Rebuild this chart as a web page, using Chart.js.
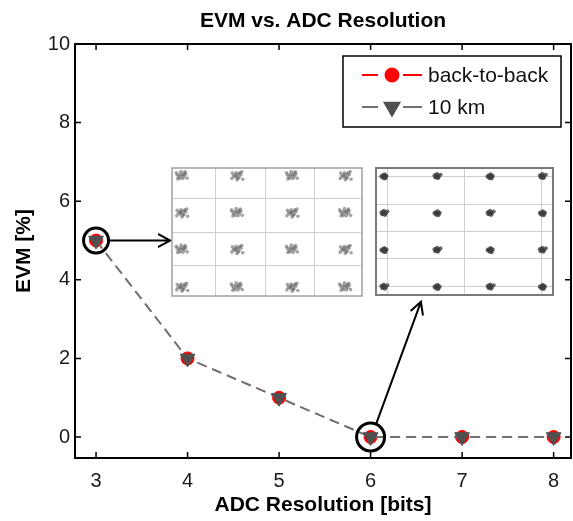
<!DOCTYPE html>
<html>
<head>
<meta charset="utf-8">
<script src="https://cdn.jsdelivr.net/npm/chart.js@4.4.0/dist/chart.umd.min.js"></script>
<style>
  html, body { margin: 0; padding: 0; background: #fff; }
  #wrap { position: relative; width: 573px; height: 521px; }
  #main { position: absolute; left: 0; top: 0; }
  .inset { position: absolute; }
</style>
</head>
<body>
<div id="wrap">
  <canvas id="main" width="573" height="521"></canvas>
  <canvas id="inset3" class="inset" width="192" height="130" style="left:171px;top:167px"></canvas>
  <canvas id="inset6" class="inset" width="179" height="129" style="left:375px;top:167px"></canvas>
</div>
<script>
// --- main plot data ---
const bits = [3, 4, 5, 6, 7, 8];
const evmBackToBack = [5, 2, 1, 0, 0, 0];
const evm10km = [5, 2, 1, 0, 0, 0];
const xTicks = [3, 4, 5, 6, 7, 8];
const yTicks = [0, 2, 4, 6, 8, 10];

// highlighted points and the arrows pointing to the constellations
const circledBits = [3, 6];
const circledEvm = [5, 0];
const arrowFrom = [[3.15, 5], [6.06, 0.33]];
const arrowTo = [[3.81, 5], [6.55, 3.44]];

// --- constellation insets (16-QAM) ---
const c3I = [-0.9, -0.32, 0.26, 0.82];
const c3Q = [0.88, 0.30, -0.27, -0.86];
const c3GridI = [-0.54, -0.02, 0.5];
const c3GridQ = [0.53, 0.0, -0.53];
const c3SpreadA = [[0, 0], [0.015, 0.015], [-0.015, 0.025], [0.03, -0.01], [-0.03, -0.015], [0.025, 0.04],
  [-0.015, -0.04], [0.045, 0.025], [-0.045, 0.015], [0.015, -0.045], [0.04, 0.06], [-0.04, -0.05],
  [0.06, -0.04], [-0.005, 0.065], [-0.055, 0.045]];
const c3SpreadB = [[0, 0], [-0.015, 0.015], [0.02, 0.025], [-0.035, -0.005], [0.025, -0.025], [-0.005, 0.045],
  [0.015, -0.04], [-0.045, 0.04], [0.045, 0.015], [-0.015, -0.02], [0.065, -0.055], [0.035, 0.045],
  [-0.05, -0.045], [0.005, -0.065], [0.055, 0.06]];

const c6I = [-0.91, -0.31, 0.29, 0.88];
const c6Q = [0.87, 0.29, -0.29, -0.87];
const c6GridI = [-0.87, 0, 0.87];
const c6GridQ = [0.86, 0.42, 0, -0.43, -0.87];
const c6SpreadA = [[0, 0], [0.015, 0.015], [-0.015, 0.015], [0.02, -0.015], [-0.02, -0.015], [0.005, 0.03],
  [-0.005, -0.03], [0.03, 0.005], [-0.03, 0], [0.015, -0.035]];
const c6SpreadB = [[0, 0], [-0.015, 0.02], [0.015, 0.01], [-0.02, -0.02], [0.02, -0.01], [0, 0.035],
  [0.01, -0.03], [-0.03, 0.01], [0.04, 0.025], [-0.01, -0.015]];

const FONT = "'Liberation Sans', Arial, Helvetica, sans-serif";

function clusterPoints(iVals, qVals, spreadA, spreadB) {
  const pts = [];
  qVals.forEach((q, r) => {
    iVals.forEach((i, c) => {
      const spread = (r + c) % 2 ? spreadB : spreadA;
      spread.forEach(([di, dq]) => pts.push({ x: i + di, y: q + dq }));
    });
  });
  return pts;
}

// Box around the plot area, with inward tick marks on all four sides
const framePlugin = {
  id: 'frame',
  afterDatasetsDraw(chart, args, opts) {
    const { ctx, chartArea: a } = chart;
    ctx.save();
    ctx.strokeStyle = opts.color;
    ctx.lineWidth = opts.width;
    ctx.strokeRect(a.left, a.top, a.right - a.left, a.bottom - a.top);
    if (opts.ticks) {
      const sx = chart.scales.x, sy = chart.scales.y;
      ctx.lineWidth = 1.5;
      ctx.beginPath();
      xTicks.forEach((v) => {
        const px = sx.getPixelForValue(v);
        ctx.moveTo(px, a.bottom); ctx.lineTo(px, a.bottom - 6);
        ctx.moveTo(px, a.top); ctx.lineTo(px, a.top + 6);
      });
      yTicks.forEach((v) => {
        const py = sy.getPixelForValue(v);
        ctx.moveTo(a.left, py); ctx.lineTo(a.left + 6, py);
        ctx.moveTo(a.right, py); ctx.lineTo(a.right - 6, py);
      });
      ctx.stroke();
    }
    ctx.restore();
  },
};

// Arrows from the circled points to the constellation insets
const arrowPlugin = {
  id: 'arrows',
  afterDatasetsDraw(chart) {
    const { ctx } = chart;
    const sx = chart.scales.x, sy = chart.scales.y;
    ctx.save();
    ctx.strokeStyle = '#000';
    ctx.lineWidth = 2;
    ctx.lineCap = 'round';
    arrowFrom.forEach((from, k) => {
      const x0 = sx.getPixelForValue(from[0]), y0 = sy.getPixelForValue(from[1]);
      const x1 = sx.getPixelForValue(arrowTo[k][0]), y1 = sy.getPixelForValue(arrowTo[k][1]);
      const ang = Math.atan2(y1 - y0, x1 - x0);
      ctx.beginPath();
      ctx.moveTo(x0, y0); ctx.lineTo(x1, y1);
      ctx.moveTo(x1 - 13 * Math.cos(ang - 0.5), y1 - 13 * Math.sin(ang - 0.5));
      ctx.lineTo(x1, y1);
      ctx.lineTo(x1 - 13 * Math.cos(ang + 0.5), y1 - 13 * Math.sin(ang + 0.5));
      ctx.stroke();
    });
    ctx.restore();
  },
};

// MATLAB-style legend box in the upper right corner
const legendPlugin = {
  id: 'boxLegend',
  afterDraw(chart) {
    const { ctx, chartArea: a } = chart;
    const box = { left: a.right - 228, top: a.top + 12, w: 218, h: 71 };
    ctx.save();
    ctx.fillStyle = '#fff';
    ctx.fillRect(box.left, box.top, box.w, box.h);
    ctx.strokeStyle = '#000';
    ctx.lineWidth = 1.5;
    ctx.strokeRect(box.left, box.top, box.w, box.h);
    const rows = chart.data.datasets.filter((d) => d.legendRow !== undefined);
    rows.forEach((ds) => {
      const y = box.top + 19 + ds.legendRow * 32;
      const x0 = box.left + 19;
      ctx.strokeStyle = ds.legendLine;
      ctx.lineWidth = 2;
      ctx.beginPath();
      ctx.moveTo(x0, y); ctx.lineTo(x0 + 16, y);
      ctx.moveTo(x0 + 41, y); ctx.lineTo(x0 + 60, y);
      ctx.stroke();
      ctx.fillStyle = ds.pointBackgroundColor;
      ctx.strokeStyle = ds.pointBorderColor;
      Chart.helpers.drawPoint(ctx, {
        pointStyle: ds.pointStyle, rotation: ds.pointRotation || 0,
        radius: ds.pointRadius, borderWidth: 1,
      }, x0 + 30, y);
      ctx.fillStyle = '#111';
      ctx.font = '21px ' + FONT;
      ctx.textBaseline = 'middle';
      ctx.fillText(ds.label, x0 + 66, y + 1);
    });
    ctx.restore();
  },
};

new Chart(document.getElementById('main'), {
  type: 'line',
  data: {
    datasets: [
      {
        label: 'back-to-back',
        legendRow: 0,
        legendLine: '#ff0000',
        order: 2,
        data: bits.map((b, i) => ({ x: b, y: evmBackToBack[i] })),
        borderColor: '#ff0000',
        borderWidth: 1,
        borderDash: [10, 6],
        pointStyle: 'circle',
        pointRadius: 6.5,
        pointBackgroundColor: '#ff0000',
        pointBorderColor: '#ff0000',
        pointBorderWidth: 1,
      },
      {
        label: '10 km',
        legendRow: 1,
        legendLine: '#707070',
        order: 1,
        data: bits.map((b, i) => ({ x: b, y: evm10km[i] })),
        borderColor: '#707070',
        borderWidth: 2,
        borderDash: [10, 6],
        pointStyle: 'triangle',
        pointRotation: 180,
        pointRadius: 8.5,
        pointBackgroundColor: '#505050',
        pointBorderColor: '#505050',
        pointBorderWidth: 1,
      },
      {
        label: 'circled',
        order: 0,
        data: circledBits.map((b, i) => ({ x: b, y: circledEvm[i] })),
        showLine: false,
        pointStyle: 'circle',
        pointRadius: [12.5, 14],
        pointBackgroundColor: 'rgba(0,0,0,0)',
        pointBorderColor: '#000',
        pointBorderWidth: 3,
      },
    ],
  },
  options: {
    responsive: false,
    animation: false,
    layout: { autoPadding: false, padding: { left: 0, right: 2, top: 0, bottom: 0 } },
    plugins: {
      legend: { display: false },
      tooltip: { enabled: false },
      title: {
        display: true,
        fullSize: false,
        text: 'EVM vs. ADC Resolution',
        color: '#000',
        font: { family: FONT, size: 21, weight: 'bold' },
        padding: { top: 9, bottom: 9.8 },
      },
      frame: { color: '#000', width: 2, ticks: true },
    },
    scales: {
      x: {
        type: 'linear',
        min: 2.77,
        max: 8.19,
        afterBuildTicks: (s) => { s.ticks = xTicks.map((v) => ({ value: v })); },
        afterFit: (s) => { s.height = 63; },
        grid: { display: false, drawTicks: false },
        border: { display: false },
        ticks: { color: '#1a1a1a', padding: 11, font: { family: FONT, size: 20 } },
        title: {
          display: true,
          text: 'ADC Resolution [bits]',
          color: '#000',
          font: { family: FONT, size: 21, weight: 'bold' },
          padding: { top: 0, bottom: 3 },
        },
      },
      y: {
        type: 'linear',
        min: -0.534,
        max: 10,
        afterBuildTicks: (s) => { s.ticks = yTicks.map((v) => ({ value: v })); },
        afterFit: (s) => { s.width = 75; },
        grid: { display: false, drawTicks: false },
        border: { display: false },
        ticks: { color: '#1a1a1a', padding: 5, font: { family: FONT, size: 20 } },
        title: {
          display: true,
          text: 'EVM [%]',
          color: '#000',
          font: { family: FONT, size: 21, weight: 'bold' },
          padding: { top: 12, bottom: 0 },
        },
      },
    },
  },
  plugins: [framePlugin, arrowPlugin, legendPlugin],
});

function makeInset(id, points, gridI, gridQ, frameColor, frameWidth, dotColor, dotRadius) {
  new Chart(document.getElementById(id), {
    type: 'scatter',
    data: {
      datasets: [{
        data: points,
        pointRadius: dotRadius,
        pointBackgroundColor: dotColor,
        pointBorderWidth: 0,
      }],
    },
    options: {
      responsive: false,
      animation: false,
      layout: { autoPadding: false, padding: 1 },
      plugins: {
        legend: { display: false },
        tooltip: { enabled: false },
        frame: { color: frameColor, width: frameWidth, ticks: false },
      },
      scales: {
        x: {
          min: -1, max: 1,
          afterBuildTicks: (s) => { s.ticks = gridI.map((v) => ({ value: v })); },
          afterFit: (s) => { s.height = 0; },
          ticks: { display: false },
          grid: { color: '#cfcfcf', drawTicks: false },
          border: { display: false },
        },
        y: {
          min: -1, max: 1,
          afterBuildTicks: (s) => { s.ticks = gridQ.map((v) => ({ value: v })); },
          afterFit: (s) => { s.width = 0; },
          ticks: { display: false },
          grid: { color: '#cfcfcf', drawTicks: false },
          border: { display: false },
        },
      },
    },
    plugins: [framePlugin],
  });
}

makeInset('inset3', clusterPoints(c3I, c3Q, c3SpreadA, c3SpreadB), c3GridI, c3GridQ,
  '#a0a0a0', 1.5, 'rgba(90,90,90,0.55)', 1.8);
makeInset('inset6', clusterPoints(c6I, c6Q, c6SpreadA, c6SpreadB), c6GridI, c6GridQ,
  '#7a7a7a', 2, 'rgba(60,60,60,0.75)', 2);
</script>
</body>
</html>
